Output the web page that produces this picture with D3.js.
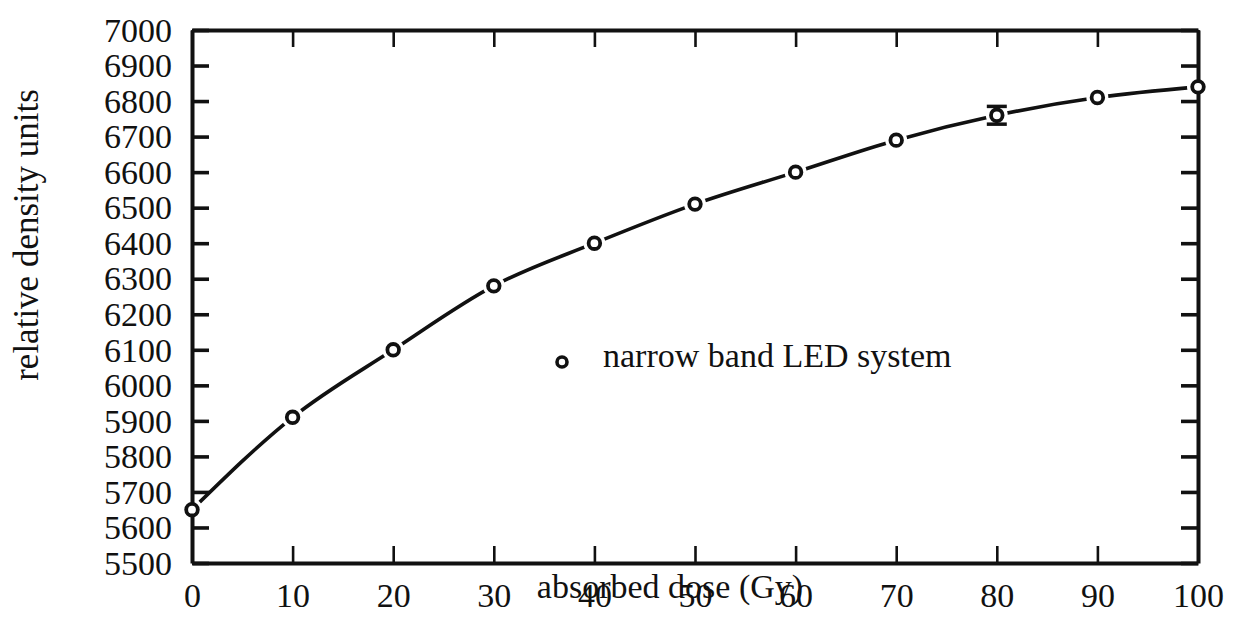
<!DOCTYPE html>
<html>
<head>
<meta charset="utf-8">
<script src="https://cdn.jsdelivr.net/npm/d3@7"></script>
<style>
  body { margin: 0; background: #fff; }
  svg text { font-family: "Liberation Serif", "Times New Roman", serif; fill: #111; }
  .axis .domain { stroke: #111; stroke-width: 4; }
  .axis .tick line { stroke: #111; }
</style>
</head>
<body>
<script>
// data
var doses = [0, 10, 20, 30, 40, 50, 60, 70, 80, 90, 100];
var density = [5650, 5910, 6100, 6280, 6400, 6510, 6600, 6690, 6760, 6810, 6840];
var errBar = [0, 0, 0, 0, 0, 0, 0, 0, 25, 0, 0];
var xTicks = [0, 10, 20, 30, 40, 50, 60, 70, 80, 90, 100];
var yTicks = [5500, 5600, 5700, 5800, 5900, 6000, 6100, 6200, 6300, 6400, 6500, 6600, 6700, 6800, 6900, 7000];
var legendLabel = "narrow band LED system";

var W = 1237, H = 637;
var margin = {top: 30, right: 39, bottom: 74, left: 192};
var width = W - margin.left - margin.right;
var height = H - margin.top - margin.bottom;
var serif = '"Liberation Serif", "Times New Roman", serif';

var svg = d3.select("body").append("svg")
    .attr("width", W).attr("height", H);
var g = svg.append("g")
    .attr("transform", "translate(" + margin.left + "," + margin.top + ")");

var xScale = d3.scaleLinear().domain([0, 100]).range([0, width]);
var yScale = d3.scaleLinear().domain([5500, 7000]).range([height, 0]);

var data = doses.map(function(d, i) { return {x: d, y: density[i], e: errBar[i]}; });

// curve
var line = d3.line()
    .x(function(d) { return xScale(d.x); })
    .y(function(d) { return yScale(d.y); })
    .curve(d3.curveMonotoneX);

g.append("path")
    .datum(data)
    .attr("d", line)
    .attr("fill", "none")
    .attr("stroke", "#111")
    .attr("stroke-width", 3.6);

// white halo so the line stops short of each marker
g.selectAll(".halo")
    .data(data)
  .enter().append("circle")
    .attr("class", "halo")
    .attr("cx", function(d) { return xScale(d.x); })
    .attr("cy", function(d) { return yScale(d.y); })
    .attr("r", 11)
    .attr("fill", "#fff");

// axes (frame with inward ticks)
var gx = g.append("g").attr("class", "axis")
    .attr("transform", "translate(0," + height + ")")
    .call(d3.axisBottom(xScale).tickValues(xTicks).tickFormat(d3.format("d"))
      .tickSizeInner(-17).tickSizeOuter(0));
gx.selectAll(".tick line").attr("stroke-width", 2.6);
gx.selectAll(".tick text")
    .style("font-family", serif).style("font-size", "34px")
    .attr("dy", 0).attr("y", 44);

var gxt = g.append("g").attr("class", "axis")
    .call(d3.axisTop(xScale).tickValues(xTicks).tickSizeInner(-17).tickSizeOuter(0).tickFormat(""));
gxt.selectAll(".tick line").attr("stroke-width", 2.6);

var gy = g.append("g").attr("class", "axis")
    .call(d3.axisLeft(yScale).tickValues(yTicks).tickFormat(d3.format("d"))
      .tickSizeInner(-17).tickSizeOuter(0));
gy.selectAll(".tick line").attr("stroke-width", 3.6);
gy.selectAll(".tick text")
    .style("font-family", serif).style("font-size", "34px")
    .attr("x", -20).attr("dy", "0.33em");

var gyr = g.append("g").attr("class", "axis")
    .attr("transform", "translate(" + width + ",0)")
    .call(d3.axisRight(yScale).tickValues(yTicks).tickSizeInner(-17).tickSizeOuter(0).tickFormat(""));
gyr.selectAll(".tick line").attr("stroke-width", 3.6);

// error bars
var eb = g.selectAll(".err")
    .data(data.filter(function(d) { return d.e > 0; }))
  .enter().append("g").attr("class", "err");
eb.append("line")
    .attr("x1", function(d) { return xScale(d.x); })
    .attr("x2", function(d) { return xScale(d.x); })
    .attr("y1", function(d) { return yScale(d.y - d.e); })
    .attr("y2", function(d) { return yScale(d.y + d.e); })
    .attr("stroke", "#111").attr("stroke-width", 3);
[-1, 1].forEach(function(s) {
  eb.append("line")
      .attr("x1", function(d) { return xScale(d.x) - 10; })
      .attr("x2", function(d) { return xScale(d.x) + 10; })
      .attr("y1", function(d) { return yScale(d.y + s * d.e); })
      .attr("y2", function(d) { return yScale(d.y + s * d.e); })
      .attr("stroke", "#111").attr("stroke-width", 3.5);
});

// markers
g.selectAll(".dot")
    .data(data)
  .enter().append("circle")
    .attr("class", "dot")
    .attr("cx", function(d) { return xScale(d.x); })
    .attr("cy", function(d) { return yScale(d.y); })
    .attr("r", 5.8)
    .attr("fill", "#fff")
    .attr("stroke", "#111")
    .attr("stroke-width", 3.8);

// legend
svg.append("circle")
    .attr("cx", 562).attr("cy", 362).attr("r", 5)
    .attr("fill", "#fff").attr("stroke", "#111").attr("stroke-width", 3.6);
svg.append("text")
    .attr("x", 603).attr("y", 367)
    .style("font-size", "34px")
    .text(legendLabel);

// axis titles
svg.append("text")
    .attr("x", 670).attr("y", 598)
    .attr("text-anchor", "middle")
    .style("font-size", "34px")
    .text("absorbed dose (Gy)");

svg.append("text")
    .attr("transform", "translate(38,235) rotate(-90)")
    .attr("text-anchor", "middle")
    .style("font-size", "35px")
    .text("relative density units");
</script>
</body>
</html>
